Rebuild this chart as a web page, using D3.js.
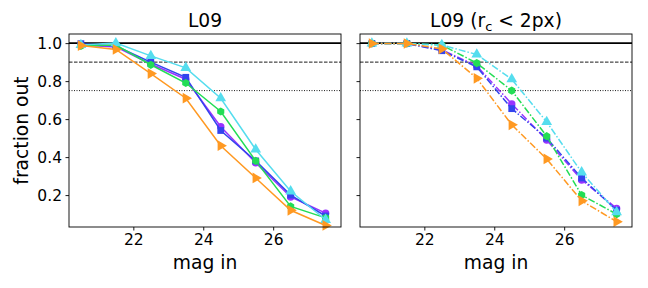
<!DOCTYPE html>
<html>
<head>
<meta charset="utf-8">
<script src="https://cdn.jsdelivr.net/npm/d3@7"></script>
<style>
  body { margin: 0; background: #fff; }
  text { font-family: "DejaVu Sans", sans-serif; fill: #000; }
</style>
</head>
<body>
<div id="chart"></div>
<script>
// magnitude bins
var mags = [20.5, 21.5, 22.5, 23.5, 24.5, 25.5, 26.5, 27.5];

// series names / colours / markers (same in both panels)
var seriesNames = ["purple", "blue", "green", "cyan", "orange"];
var seriesColors = ["#9933ff", "#3344ee", "#22dd55", "#55ddee", "#ff9922"];
var seriesMarkers = ["circle", "square", "hexagon", "triangleUp", "triangleRight"];

// left panel: L09
var l09_purple = [0.99, 0.98, 0.89, 0.81, 0.56, 0.37, 0.19, 0.105];
var l09_blue   = [0.997, 0.985, 0.90, 0.82, 0.54, 0.38, 0.20, 0.09];
var l09_green  = [0.985, 0.99, 0.886, 0.79, 0.64, 0.38, 0.14, 0.08];
var l09_cyan   = [0.99, 1.0, 0.933, 0.87, 0.71, 0.44, 0.22, 0.07];
var l09_orange = [0.987, 0.967, 0.84, 0.71, 0.46, 0.29, 0.12, 0.04];

// right panel: L09 (r_c < 2px)
var rc_purple = [0.998, 0.998, 0.965, 0.88, 0.68, 0.49, 0.28, 0.13];
var rc_blue   = [0.998, 0.998, 0.96, 0.875, 0.655, 0.50, 0.29, 0.12];
var rc_green  = [0.998, 0.998, 0.99, 0.895, 0.75, 0.51, 0.20, 0.10];
var rc_cyan   = [0.998, 0.998, 0.99, 0.94, 0.81, 0.585, 0.32, 0.11];
var rc_orange = [0.998, 0.998, 0.97, 0.815, 0.57, 0.39, 0.17, 0.06];

var refLines = [1.0, 0.9, 0.75];
var yTicks = [0.2, 0.4, 0.6, 0.8, 1.0];
var xTicks = [22, 24, 26];

var panels = [
  { title: "L09", dash: null, series: [l09_purple, l09_blue, l09_green, l09_cyan, l09_orange], left: 69 },
  { title: "L09 (r_c < 2px)", dash: "7,2,1.5,2", series: [rc_purple, rc_blue, rc_green, rc_cyan, rc_orange], left: 360 }
];

var W = 648, H = 288;
var pw = 272, ph = 193, panelTop = 34;

var svg = d3.select("#chart").append("svg")
    .attr("width", W).attr("height", H);

var xScale = d3.scaleLinear().domain([20.16, 27.94]).range([0, pw]);
var yScale = d3.scaleLinear().domain([0.032, 1.048]).range([ph, 0]);

var hexagon = {
  draw: function(ctx, size) {
    var r = Math.sqrt(size / 2.6);
    for (var i = 0; i < 6; i++) {
      var a = Math.PI / 6 + i * Math.PI / 3;
      if (i == 0) ctx.moveTo(r * Math.cos(a), r * Math.sin(a));
      else ctx.lineTo(r * Math.cos(a), r * Math.sin(a));
    }
    ctx.closePath();
  }
};

function marker(kind) {
  if (kind == "circle") return d3.symbol().type(d3.symbolCircle).size(44)();
  if (kind == "square") return d3.symbol().type(d3.symbolSquare).size(46)();
  if (kind == "hexagon") return d3.symbol().type(hexagon).size(44)();
  return d3.symbol().type(d3.symbolTriangle).size(50)();
}

panels.forEach(function(p, pi) {
  var g = svg.append("g").attr("transform", "translate(" + p.left + "," + panelTop + ")");

  // reference lines
  g.selectAll(".ref").data(refLines).enter().append("line")
    .attr("x1", 0).attr("x2", pw)
    .attr("y1", function(d) { return yScale(d); })
    .attr("y2", function(d) { return yScale(d); })
    .attr("stroke", "#000")
    .attr("stroke-width", function(d, i) { return i == 0 ? 1.8 : 0.9; })
    .attr("stroke-dasharray", function(d, i) { return i == 0 ? null : (i == 1 ? "3.5,1.5" : "1,1.5"); });

  var line = d3.line()
    .x(function(d, i) { return xScale(mags[i]); })
    .y(function(d) { return yScale(d); });

  p.series.forEach(function(vals, si) {
    var col = seriesColors[si];
    g.append("path")
      .datum(vals)
      .attr("d", line)
      .attr("fill", "none")
      .attr("stroke", col)
      .attr("stroke-width", 1.5)
      .attr("stroke-dasharray", p.dash);

    g.selectAll(".m" + si).data(vals).enter().append("path")
      .attr("class", "m" + si)
      .attr("d", marker(seriesMarkers[si]))
      .attr("fill", col)
      .attr("transform", function(d, i) {
        var rot = seriesMarkers[si] == "triangleRight" ? " rotate(90)" : "";
        return "translate(" + xScale(mags[i]) + "," + yScale(d) + ")" + rot;
      });
  });

  // axes
  var xAxis = d3.axisBottom(xScale).tickValues(xTicks).tickSize(3.5).tickPadding(3.5)
      .tickFormat(d3.format("d"));
  var yAxis = d3.axisLeft(yScale).tickValues(yTicks).tickSize(3.5).tickPadding(3.5)
      .tickFormat(pi == 0 ? d3.format(".1f") : "");

  var gx = g.append("g").attr("transform", "translate(0," + ph + ")").call(xAxis);
  var gy = g.append("g").call(yAxis);
  [gx, gy].forEach(function(a) {
    a.select(".domain").remove();
    a.selectAll("line").attr("stroke", "#000").attr("stroke-width", 0.9);
    a.selectAll("text").style("font-size", "15.5px").style("font-family", "DejaVu Sans");
  });

  // frame
  g.append("rect").attr("x", 0).attr("y", 0).attr("width", pw).attr("height", ph)
    .attr("fill", "none").attr("stroke", "#000").attr("stroke-width", 0.9);

  // title
  var t = g.append("text").attr("x", pw / 2).attr("y", -7)
    .attr("text-anchor", "middle").style("font-size", "18.7px");
  if (pi == 0) {
    t.text(p.title);
  } else {
    t.append("tspan").text("L09 (r");
    t.append("tspan").attr("dy", 4).style("font-size", "13px").text("c");
    t.append("tspan").attr("dy", -4).text(" < 2px)");
  }

  // x label
  g.append("text").attr("x", pw / 2).attr("y", ph + 42)
    .attr("text-anchor", "middle").style("font-size", "18.7px").text("mag in");
});

svg.append("text")
  .attr("transform", "translate(28," + (panelTop + ph / 2) + ") rotate(-90)")
  .attr("text-anchor", "middle").style("font-size", "18.7px").text("fraction out");
</script>
</body>
</html>
